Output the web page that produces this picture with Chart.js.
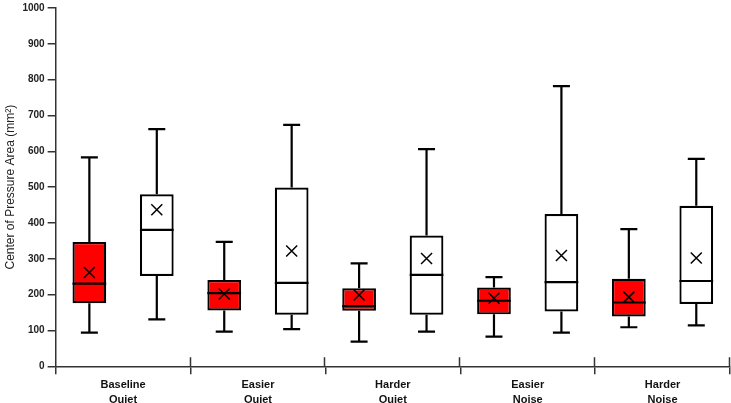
<!DOCTYPE html>
<html>
<head>
<meta charset="utf-8">
<script src="https://cdn.jsdelivr.net/npm/chart.js@4.4.0/dist/chart.umd.min.js"></script>
<style>
  html, body { margin: 0; padding: 0; background: #fff; }
  #wrap { width: 731px; height: 403px; }
</style>
</head>
<body>
<div id="wrap"><canvas id="myChart"></canvas></div>
<script>
// categories (two-line labels)
var conditions = [["Baseline", "Quiet"], ["Easier", "Quiet"], ["Harder", "Quiet"], ["Easier", "Noise"], ["Harder", "Noise"]];

// red boxes
var redMin = [94, 97, 69, 83, 109];
var redQ1 = [176, 156, 155, 145, 139];
var redMedian = [231, 204, 168, 183, 178];
var redQ3 = [347, 241, 218, 220, 244];
var redMax = [583, 347, 287, 249, 383];
var redMean = [262, 202, 199, 190, 193];

// white boxes
var whiteMin = [131, 104, 97, 94, 114];
var whiteQ1 = [252, 144, 144, 153, 174];
var whiteMedian = [381, 233, 255, 235, 238];
var whiteQ3 = [480, 499, 365, 425, 448];
var whiteMax = [662, 674, 606, 782, 579];
var whiteMean = [437, 322, 301, 309, 302];

// y axis
var yMin = 0, yMax = 1000, yStep = 100;

function boxes(q1, q3) {
  return q1.map(function(v, i) { return [v, q3[i]]; });
}

// whiskers, medians and mean crosses on top of the bars
var boxExtras = {
  id: 'boxExtras',
  afterDatasetsDraw: function(chart) {
    var ctx = chart.ctx;
    var y = chart.scales.y;
    var stats = [
      {min: redMin, med: redMedian, max: redMax, mean: redMean, q1: redQ1, q3: redQ3},
      {min: whiteMin, med: whiteMedian, max: whiteMax, mean: whiteMean, q1: whiteQ1, q3: whiteQ3}
    ];
    ctx.save();
    ctx.strokeStyle = '#000';
    stats.forEach(function(s, di) {
      var meta = chart.getDatasetMeta(di);
      meta.data.forEach(function(bar, i) {
        var x = bar.x, hw = bar.width / 2, cap = 8.5;
        ctx.lineWidth = 2.2;
        ctx.beginPath();
        // upper whisker
        ctx.moveTo(x, y.getPixelForValue(s.q3[i]));
        ctx.lineTo(x, y.getPixelForValue(s.max[i]));
        ctx.moveTo(x - cap, y.getPixelForValue(s.max[i]));
        ctx.lineTo(x + cap, y.getPixelForValue(s.max[i]));
        // lower whisker
        ctx.moveTo(x, y.getPixelForValue(s.q1[i]));
        ctx.lineTo(x, y.getPixelForValue(s.min[i]));
        ctx.moveTo(x - cap, y.getPixelForValue(s.min[i]));
        ctx.lineTo(x + cap, y.getPixelForValue(s.min[i]));
        // median
        ctx.moveTo(x - hw, y.getPixelForValue(s.med[i]));
        ctx.lineTo(x + hw, y.getPixelForValue(s.med[i]));
        ctx.stroke();
        // mean cross
        var my = y.getPixelForValue(s.mean[i]), r = 5.5;
        ctx.lineWidth = 1.5;
        ctx.beginPath();
        ctx.moveTo(x - r, my - r); ctx.lineTo(x + r, my + r);
        ctx.moveTo(x - r, my + r); ctx.lineTo(x + r, my - r);
        ctx.stroke();
      });
    });
    // upper half of the category separator ticks
    var xs = chart.scales.x;
    var step = xs.width / conditions.length;
    ctx.strokeStyle = '#333';
    ctx.lineWidth = 1.5;
    ctx.beginPath();
    for (var k = 1; k <= conditions.length; k++) {
      var px = Math.round(xs.left + k * step) - 0.5;
      ctx.moveTo(px, y.bottom);
      ctx.lineTo(px, y.bottom - 9);
    }
    ctx.stroke();
    ctx.restore();
  }
};

new Chart("myChart", {
  type: "bar",
  data: {
    labels: conditions,
    datasets: [{
      data: boxes(redQ1, redQ3),
      backgroundColor: "#ff0000",
      borderColor: "#000",
      borderWidth: 2.2,
      borderSkipped: false
    }, {
      data: boxes(whiteQ1, whiteQ3),
      backgroundColor: "#ffffff",
      borderColor: "#000",
      borderWidth: 2.2,
      borderSkipped: false
    }]
  },
  options: {
    responsive: true,
    maintainAspectRatio: false,
    animation: false,
    categoryPercentage: 1.0,
    barPercentage: 0.5,
    layout: { padding: { top: 0, right: 1, left: 3, bottom: -7 } },
    plugins: {
      legend: { display: false },
      tooltip: { enabled: false },
      title: { display: false }
    },
    scales: {
      x: {
        grid: { display: true, drawOnChartArea: false, drawTicks: true, tickLength: 8, color: '#333', lineWidth: 1.5, offset: true },
        border: { display: true, color: '#333', width: 1.5 },
        ticks: {
          color: '#111',
          font: { family: 'Liberation Sans, Arial, sans-serif', size: 11, weight: 'bold', lineHeight: 1.35 },
          padding: 3,
          maxRotation: 0
        }
      },
      y: {
        min: yMin,
        max: yMax,
        grid: { display: true, drawOnChartArea: false, drawTicks: true, tickLength: 8, color: '#333', lineWidth: 1.5 },
        border: { display: true, color: '#333', width: 1.5 },
        ticks: {
          stepSize: yStep,
          color: '#222',
          font: { family: 'Liberation Sans, Arial, sans-serif', size: 10, weight: 'bold', lineHeight: 1.0 },
          padding: 3,
          callback: function(v) { return String(v); }
        },
        title: {
          display: true,
          text: 'Center of Pressure Area (mm\u00b2)',
          color: '#222',
          font: { family: 'Liberation Sans, Arial, sans-serif', size: 12 },
          padding: { top: 0, bottom: 2 }
        }
      }
    }
  },
  plugins: [boxExtras]
});
</script>
</body>
</html>
